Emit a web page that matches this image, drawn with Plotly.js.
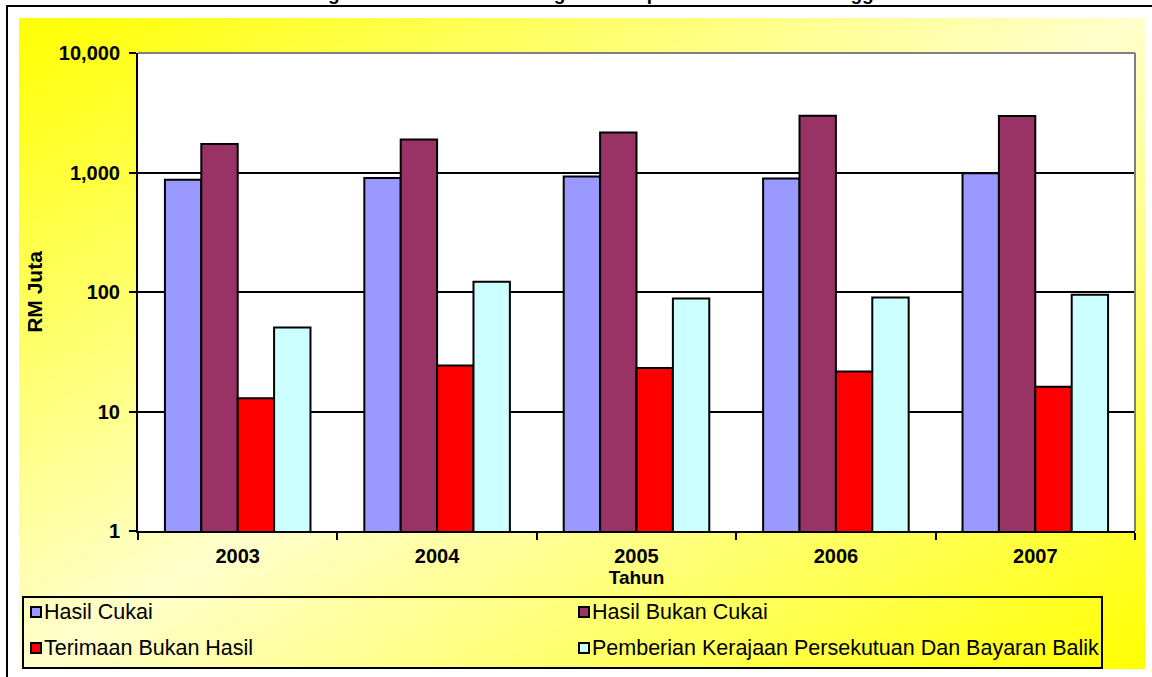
<!DOCTYPE html>
<html>
<head>
<meta charset="utf-8">
<script src="https://cdn.plot.ly/plotly-3.0.1.min.js"></script>
<style>
  html, body { margin: 0; padding: 0; width: 1152px; height: 677px; overflow: hidden; background: #ffffff; }
  #frame { position: absolute; left: 6px; top: 5px; width: 1300px; height: 800px;
           border-top: 2px solid #000; border-left: 2px solid #000; }
  #fill { position: absolute; left: 19px; top: 18px; width: 1126px; height: 651px;
          background: linear-gradient(to bottom right, #ffff00 0%, #ffffcc 50%, #ffff00 100%); }
  #chart { position: absolute; left: 0; top: 0; width: 1152px; height: 677px; }
</style>
</head>
<body>
<div id="frame"></div>
<div id="fill"></div>
<div id="chart"></div>
<script>
// Revenue by component, RM million, 2003-2007
const years = ['2003', '2004', '2005', '2006', '2007'];
const hasilCukai = [868, 898, 926, 890, 985];
const hasilBukanCukai = [1729, 1888, 2163, 2980, 2970];
const terimaanBukanHasil = [12.9, 24.3, 23.1, 21.6, 16.1];
const pemberianKerajaan = [50.5, 122, 88.3, 90, 94.8];

const seriesNames = ['Hasil Cukai', 'Hasil Bukan Cukai', 'Terimaan Bukan Hasil',
                     'Pemberian Kerajaan Persekutuan Dan Bayaran Balik'];
const seriesColors = ['#9999ff', '#993366', '#ff0000', '#ccffff'];
const seriesValues = [hasilCukai, hasilBukanCukai, terimaanBukanHasil, pemberianKerajaan];

const yTickVals = [1, 10, 100, 1000, 10000];
const yTickText = ['1', '10', '100', '1,000', '10,000'];

const W = 1152, H = 677;
const M = { l: 138, r: 17, t: 53, b: 146 };
const plotW = W - M.l - M.r, plotH = H - M.t - M.b;
const px = x => (x - M.l) / plotW;          // page x -> paper x
const py = y => (H - M.b - y) / plotH;      // page y -> paper y

const FONT = 'Arial, "Liberation Sans", sans-serif';

const traces = seriesNames.map((name, i) => ({
  type: 'bar',
  name: name,
  x: years,
  y: seriesValues[i],
  marker: { color: seriesColors[i], line: { color: '#000000', width: 2 } },
  showlegend: false,
  hoverinfo: 'x+y+name'
}));

// Boxed key below the plot: two columns, two rows
const keyBox = { left: 23, right: 1102, top: 597, bottom: 668 };
const keyCols = [31, 579];
const keyRows = [612, 648];
const keyShapes = [];
const keyLabels = [];
seriesNames.forEach((name, i) => {
  const cx = keyCols[i % 2], cy = keyRows[Math.floor(i / 2)];
  keyShapes.push({
    type: 'rect', xref: 'paper', yref: 'paper',
    x0: px(cx), x1: px(cx + 10), y0: py(cy + 5), y1: py(cy - 5),
    line: { color: '#000000', width: 2 }, fillcolor: seriesColors[i]
  });
  keyLabels.push({
    text: name, xref: 'paper', yref: 'paper', x: px(cx + 12), y: py(cy),
    xanchor: 'left', yanchor: 'middle', showarrow: false, borderpad: 0,
    font: { family: FONT, size: 21.5, color: '#000000' }
  });
});

const layout = {
  width: W,
  height: H,
  margin: { l: M.l, r: M.r, t: M.t, b: M.b, pad: 0, autoexpand: false },
  paper_bgcolor: 'rgba(0,0,0,0)',
  plot_bgcolor: '#ffffff',
  barmode: 'group',
  bargap: 0.27,
  bargroupgap: 0,
  font: { family: FONT, color: '#000000' },
  showlegend: false,
  xaxis: {
    type: 'category',
    showline: true, linecolor: '#000000', linewidth: 2,
    ticks: 'outside', tickson: 'boundaries', ticklen: 7, tickwidth: 2, tickcolor: '#000000',
    ticklabelstandoff: 6,
    tickfont: { family: FONT, size: 20, weight: 700 },
    showgrid: false,
    title: { text: 'Tahun', font: { family: FONT, size: 19, weight: 700 }, standoff: 0 },
    fixedrange: true
  },
  yaxis: {
    type: 'log',
    range: [0, 4],
    tickvals: yTickVals,
    ticktext: yTickText,
    showline: true, linecolor: '#000000', linewidth: 2,
    ticks: 'outside', ticklen: 7, tickwidth: 2, tickcolor: '#000000',
    ticklabelstandoff: 5,
    tickfont: { family: FONT, size: 20, weight: 700 },
    showgrid: true, gridcolor: '#000000', gridwidth: 2,
    zeroline: false,
    title: { text: 'RM Juta', font: { family: FONT, size: 21, weight: 700 }, standoff: 10 },
    fixedrange: true
  },
  shapes: [
    // plot-area frame on the top and right sides
    { type: 'line', xref: 'paper', yref: 'paper', x0: 0, x1: 1, y0: 1, y1: 1,
      line: { color: '#808080', width: 2 } },
    { type: 'line', xref: 'paper', yref: 'paper', x0: 1, x1: 1, y0: 0, y1: 1,
      line: { color: '#808080', width: 2 } },
    // key box
    { type: 'rect', xref: 'paper', yref: 'paper',
      x0: px(keyBox.left), x1: px(keyBox.right), y0: py(keyBox.bottom), y1: py(keyBox.top),
      line: { color: '#000000', width: 2 }, fillcolor: 'rgba(0,0,0,0)' }
  ].concat(keyShapes),
  annotations: [
    { text: 'Trend Pungutan Hasil Sebenar Mengikut Komponen Utama 2003 Hingga 2007',
      xref: 'paper', yref: 'paper', x: px(583), y: py(5),
      xanchor: 'center', yanchor: 'bottom', showarrow: false, borderpad: 0,
      font: { family: FONT, size: 19, weight: 700, color: '#000000' } }
  ].concat(keyLabels)
};

Plotly.newPlot('chart', traces, layout, { displayModeBar: false });
</script>
</body>
</html>
